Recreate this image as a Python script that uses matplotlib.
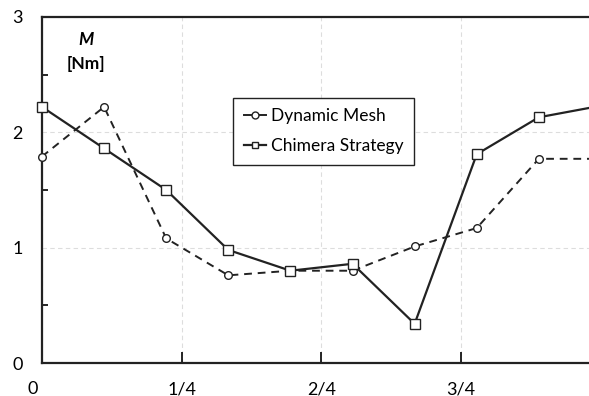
import matplotlib
matplotlib.use("Agg")
import matplotlib.pyplot as plt
import matplotlib.transforms as mtransforms
from matplotlib.ticker import MultipleLocator, FixedLocator

plt.rcParams['font.family'] = ['Lato', 'DejaVu Sans']

# fraction of the period, in ninths
steps = [0, 1, 2, 3, 4, 5, 6, 7, 8, 9]
dynamic_mesh = [1.79, 2.22, 1.08, 0.76, 0.80, 0.80, 1.01, 1.17, 1.77, 1.77]
chimera = [2.22, 1.86, 1.50, 0.98, 0.80, 0.86, 0.34, 1.81, 2.13, 2.23]
x_ticks = [0, 0.25, 0.5, 0.75, 1.0]
x_labels = ["0", "1/4", "2/4", "3/4", "1"]

x = [s / 9 for s in steps]

fig = plt.figure(figsize=(5.89, 3.96), dpi=100)
ax = fig.add_axes([0.0713, 0.0833, 0.949, 0.874])

ax.plot(x, dynamic_mesh, ls=(0, (4, 3)), color='#222222', lw=1.4,
        marker='o', ms=5.5, mfc='white', mec='#222222', mew=1.0,
        label='Dynamic Mesh', clip_on=False, zorder=3)
ax.plot(x, chimera, ls='-', color='#222222', lw=1.6,
        marker='s', ms=6.5, mfc='white', mec='#222222', mew=1.0,
        label='Chimera Strategy', clip_on=False, zorder=4)

ax.set_xlim(0, 1)
ax.set_ylim(0, 3)
ax.xaxis.set_major_locator(FixedLocator(x_ticks))
ax.set_xticklabels(x_labels, fontsize=13)
ax.yaxis.set_major_locator(MultipleLocator(1))
ax.yaxis.set_minor_locator(FixedLocator([0.5, 1.5, 2.5]))
ax.tick_params(axis='x', which='major', direction='in', length=8, width=1.2, pad=13)
ax.tick_params(axis='y', which='major', length=0, pad=14, labelsize=13)
ax.tick_params(axis='y', which='minor', direction='in', length=4, width=1.2)

# the "0" on the x axis sits a little left of the corner
first = ax.get_xticklabels()[0]
first.set_transform(first.get_transform() +
                    mtransforms.ScaledTranslation(-9 / 100, 0, fig.dpi_scale_trans))

ax.grid(True, which='major', ls=(0, (4, 3)), color='#dddddd', lw=0.8)
ax.set_axisbelow(True)
for sp in ax.spines.values():
    sp.set_linewidth(1.6)
    sp.set_color('#222222')

ax.text(0.079, 2.80, "M", fontsize=12.5, fontweight='bold', fontstyle='italic',
        ha='center', va='center')
ax.text(0.079, 2.59, "[Nm]", fontsize=12.5, fontweight='bold',
        ha='center', va='center')

leg = ax.legend(loc='upper left', bbox_to_anchor=(0.342, 0.766), borderaxespad=0,
                fancybox=False, edgecolor='#222222', framealpha=1, fontsize=12.5,
                handlelength=1.3, handletextpad=0.3, borderpad=0.6, labelspacing=0.8)
leg.get_frame().set_linewidth(1.0)
for h in leg.get_lines():
    h.set_linestyle('-')
    h.set_markersize(5)

fig.savefig("out.png", dpi=100)
